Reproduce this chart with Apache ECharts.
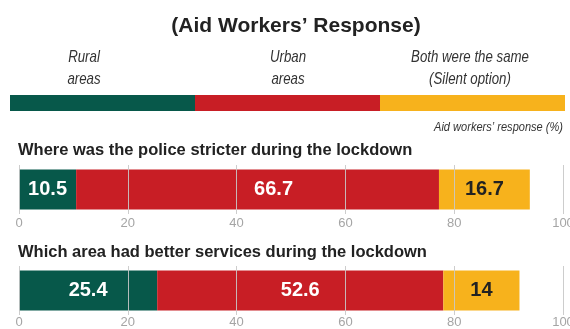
<!DOCTYPE html>
<html>
<head>
<meta charset="utf-8">
<script src="https://cdn.jsdelivr.net/npm/echarts@6/dist/echarts.min.js"></script>
<style>
  html, body { margin: 0; padding: 0; background: #fff; }
  #chart { width: 570px; height: 329px; }
</style>
</head>
<body>
<div id="chart"></div>
<script>
// Survey answers (% of aid workers)
const questions = [
  'Where was the police stricter during the lockdown',
  'Which area had better services during the lockdown'
];
const rural = [10.5, 25.4];
const urban = [66.7, 52.6];
const same = [16.7, 14];
const legendNames = [['Rural', 'areas'], ['Urban', 'areas'], ['Both were the same', '(Silent option)']];
const axisMin = 0, axisMax = 100, axisStep = 20;

const colors = ['#07584a', '#c81e25', '#f7b21c'];
const sans = "'Liberation Sans', Arial, sans-serif";

const chart = echarts.init(document.getElementById('chart'), null, { renderer: 'canvas' });

const gridTops = [165, 266];
const headingY = [150, 252];
const labelGap = [3, 1];

const grids = gridTops.map(t => ({ left: 19, right: 7, top: t, height: 49, outerBoundsMode: 'none' }));
const xAxes = gridTops.map((t, i) => ({
  type: 'value', gridIndex: i, min: axisMin, max: axisMax, interval: axisStep, z: 5,
  axisLine: { show: false }, axisTick: { show: false },
  splitLine: { show: true, lineStyle: { color: 'rgba(200,200,200,0.9)', width: 1 } },
  axisLabel: { color: '#a5a5a5', fontSize: 13, fontFamily: sans, margin: labelGap[i] }
}));
const yAxes = gridTops.map((t, i) => ({
  type: 'category', gridIndex: i, data: [questions[i]], show: false
}));

// the urban figure in the first row sits a little right of its segment centre
const labelShift = { '0-1': [16, 0] };

const groups = [rural, urban, same];
const series = [];
questions.forEach((q, qi) => {
  groups.forEach((vals, gi) => {
    const shift = labelShift[qi + '-' + gi];
    series.push({
      type: 'bar', xAxisIndex: qi, yAxisIndex: qi, stack: 'q' + qi,
      barWidth: 40,
      data: [shift ? { value: vals[qi], label: { offset: shift } } : vals[qi]],
      itemStyle: { color: colors[gi] },
      label: {
        show: true, position: 'inside', formatter: '{c}',
        color: gi === 2 ? '#222' : '#fff',
        fontFamily: sans, fontWeight: 'bold', fontSize: 20
      }
    });
  });
});

// condensed-looking text: regular face squeezed horizontally about its anchor
function squeezedText(text, x, y, align, font, fill, sx) {
  return {
    type: 'text', x: x, y: y, scaleX: sx, scaleY: 1,
    style: { text: text, x: 0, y: 0, align: align, verticalAlign: 'middle', font: font, fill: fill }
  };
}

// Key: three equal colour blocks with captions above
const keyLeft = 10, keyWidth = 555, keyTop = 95, keyH = 16;
const segW = keyWidth / 3;
const captionX = [84, 288, 470];
const graphics = [
  squeezedText('(Aid Workers\u2019 Response)', 296, 26, 'center', 'bold 21px ' + sans, '#222', 1),
  squeezedText('Aid workers\u2019 response (%)', 563, 127, 'right', 'italic 13px ' + sans, '#333', 0.85)
];

legendNames.forEach((lines, i) => {
  graphics.push({
    type: 'rect',
    shape: { x: keyLeft + segW * i, y: keyTop, width: segW + (i < 2 ? 0.5 : 0), height: keyH },
    style: { fill: colors[i] }
  });
  lines.forEach((ln, li) => {
    graphics.push(squeezedText(ln, captionX[i], 57 + li * 22, 'center', 'italic 17px ' + sans, '#333', 0.78));
  });
});
questions.forEach((q, i) => {
  graphics.push(squeezedText(q, 18, headingY[i], 'left', 'bold 16.5px ' + sans, '#222', 1));
});

chart.setOption({
  animation: false,
  backgroundColor: '#fff',
  grid: grids,
  xAxis: xAxes,
  yAxis: yAxes,
  series: series,
  graphic: graphics
});
</script>
</body>
</html>
